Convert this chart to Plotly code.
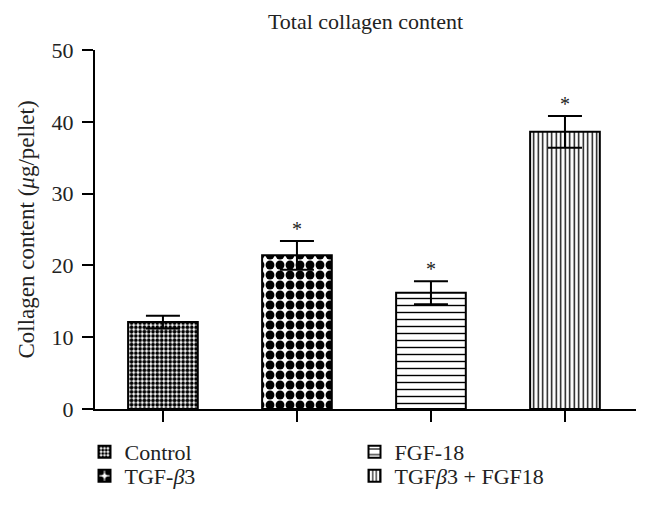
import plotly.graph_objects as go

categories = ["Control", "TGF-β3", "FGF-18", "TGFβ3 + FGF18"]
legend_names = ["Control", "TGF-<i>β</i>3", "FGF-18", "TGF<i>β</i>3 + FGF18"]
values = [12.1, 21.4, 16.2, 38.6]
errors = [0.9, 2.0, 1.6, 2.2]
significant = [False, True, True, True]
pattern_shapes = [".", ".", "-", "|"]
pattern_sizes = [4.3, 10, 7, 4.5]
pattern_solidity = [0.6, 0.62, 0.2, 0.3]
legend_rows = ["legend", "legend2", "legend", "legend2"]
y_ticks = [0, 10, 20, 30, 40, 50]

FONT = "Liberation Serif"
TXT = "#222"

W, H = 642, 498  # page adds an 8px body margin

fig = go.Figure()
for i in range(len(categories)):
    fig.add_trace(go.Bar(
        x=[categories[i]], y=[values[i]], name=legend_names[i],
        legend=legend_rows[i], width=0.52,
        marker=dict(color="white",
                    line=dict(color="black", width=2),
                    pattern=dict(shape=pattern_shapes[i], size=pattern_sizes[i],
                                 solidity=pattern_solidity[i],
                                 fgcolor="black", bgcolor="white", fillmode="replace")),
        error_y=dict(type="data", array=[errors[i]], visible=True,
                     color="black", thickness=2, width=17),
    ))

for c, v, e, s in zip(categories, values, errors, significant):
    if s:
        fig.add_annotation(x=c, y=v + e, text="*", showarrow=False,
                           yanchor="bottom", yshift=-1,
                           font=dict(family=FONT, size=20, color=TXT))

leg_common = dict(orientation="h", xanchor="left", yanchor="middle",
                  entrywidth=225, entrywidthmode="pixels",
                  font=dict(family=FONT, size=22, color=TXT),
                  traceorder="normal", bgcolor="rgba(0,0,0,0)")

fig.update_layout(
    width=W, height=H,
    margin=dict(l=87, r=14, t=42, b=97, autoexpand=False),
    plot_bgcolor="white", paper_bgcolor="white",
    barmode="overlay",
    font=dict(family=FONT, size=22, color=TXT),
    title=dict(text="Total collagen content", x=0.5, xref="paper",
               y=1 - 13 / H, yanchor="middle",
               font=dict(family=FONT, size=22, color=TXT)),
    showlegend=True,
    legend=dict(x=-0.0194, y=-0.1198, **leg_common),
    legend2=dict(x=-0.0194, y=-0.1866, **leg_common),
    xaxis=dict(categoryorder="array", categoryarray=categories, automargin=False,
               range=[-0.507, 3.53], showline=True, linecolor="black", linewidth=2,
               ticks="outside", ticklen=11, tickwidth=2, tickcolor="black",
               showticklabels=False, showgrid=False, zeroline=False),
    yaxis=dict(range=[0, 50], tickvals=y_ticks, showline=True, linecolor="black",
               linewidth=2, ticks="outside", ticklen=11, tickwidth=2, tickcolor="black",
               showgrid=False, zeroline=False, automargin=False, ticklabelstandoff=4,
               title=dict(text="Collagen content (<i>μ</i>g/pellet)", standoff=11,
                          font=dict(family=FONT, size=23, color=TXT)),
               tickfont=dict(family=FONT, size=22, color=TXT)),
)

fig.write_html("out.html")
